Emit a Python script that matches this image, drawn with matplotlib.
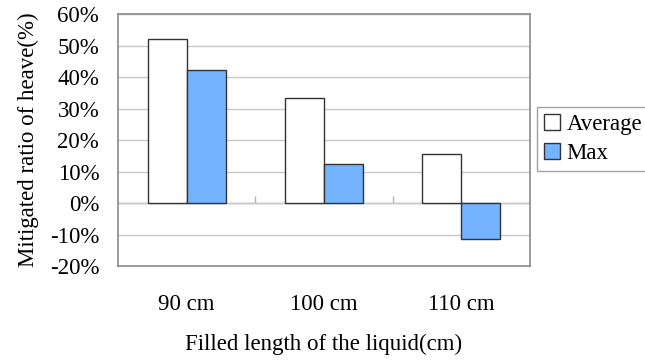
import matplotlib
matplotlib.use("Agg")
import matplotlib.pyplot as plt
import numpy as np
from matplotlib.ticker import FuncFormatter

categories = ["90 cm", "100 cm", "110 cm"]
average = [52.0, 33.3, 15.5]
max_vals = [42.2, 12.5, -11.3]
yticks = [-20, -10, 0, 10, 20, 30, 40, 50, 60]

plt.rcParams["font.family"] = ["Liberation Serif", "DejaVu Serif"]
fs = 16.5

fig = plt.figure(figsize=(6.45, 3.6), dpi=100)
ax = fig.add_axes([118 / 645, 1 - 266 / 360, (530 - 118) / 645, (266 - 14) / 360])

x = np.arange(len(categories))
w = 0.285
ax.bar(x - w / 2, average, w, color="white", edgecolor="#333333", linewidth=1.0,
       label="Average", zorder=3)
ax.bar(x + w / 2, max_vals, w, color="#74B3FF", edgecolor="#333333", linewidth=1.0,
       label="Max", zorder=3)

ax.set_xlim(-0.5, len(categories) - 0.5)
ax.set_ylim(yticks[0], yticks[-1])
ax.set_yticks(yticks)
ax.yaxis.set_major_formatter(FuncFormatter(lambda v, p: f"{v:.0f}%"))
ax.set_xticks(x)
ax.set_xticklabels(categories)
ax.tick_params(axis="both", length=0, labelsize=fs, colors="black")
ax.tick_params(axis="x", pad=20)
ax.tick_params(axis="y", pad=13.5)

ax.grid(axis="y", color="#c8c8c8", linewidth=1.0, zorder=0)
ax.axhline(0, color="#b4b4b4", linewidth=1.0, zorder=1)
# category separator ticks on the zero line
ax.vlines(x[:-1] + 0.5, 0, 2.2, color="#b4b4b4", linewidth=1.0, zorder=1)

for s in ax.spines.values():
    s.set_color("#8a8a8a")
    s.set_linewidth(1.2)

ax.set_ylabel("Mitigated ratio of heave(%)", fontsize=fs, labelpad=8)
ax.set_xlabel("Filled length of the liquid(cm)", fontsize=fs, labelpad=14)

leg = ax.legend(loc="upper left", bbox_to_anchor=(537 / 645, 1 - 107 / 360),
                bbox_transform=fig.transFigure, fontsize=fs, frameon=True,
                fancybox=False, borderpad=0.3, handlelength=0.7, handleheight=0.7,
                handletextpad=0.3, labelspacing=0.35, borderaxespad=0)
leg.get_frame().set_edgecolor("#8a8a8a")
leg.get_frame().set_linewidth(1.0)

fig.savefig("out.png", dpi=100)
